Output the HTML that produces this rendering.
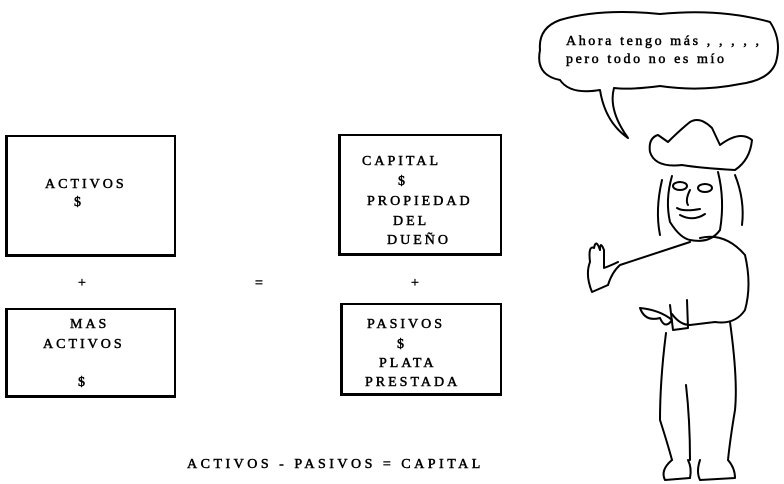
<!DOCTYPE html>
<html><head><meta charset="utf-8"><style>
body{margin:0;background:#fff;width:784px;height:484px;overflow:hidden;position:relative;font-family:"Liberation Serif",serif;color:#000}
.b{position:absolute;border:2px solid #000;border-width:2px 2px 3px 3px;box-sizing:border-box}
.t{position:absolute;font-size:14px;letter-spacing:3px;white-space:nowrap;line-height:1;-webkit-text-stroke:0.5px #000}
</style></head><body>
<div class="b" style="left:5px;top:135px;width:171px;height:122px"></div>
<div class="b" style="left:5px;top:308px;width:171px;height:90px"></div>
<div class="b" style="left:338px;top:134px;width:164px;height:122px"></div>
<div class="b" style="left:340px;top:303px;width:162px;height:93px"></div>
<div class="t" style="left:45px;top:178px">ACTIVOS</div>
<div class="t" style="left:74px;top:196px">$</div>
<div class="t" style="left:78px;top:277px">+</div>
<div class="t" style="left:255px;top:277px">=</div>
<div class="t" style="left:411px;top:277px">+</div>
<div class="t" style="left:362px;top:155px">CAPITAL</div>
<div class="t" style="left:398px;top:175px">$</div>
<div class="t" style="left:367px;top:195px">PROPIEDAD</div>
<div class="t" style="left:393px;top:215px">DEL</div>
<div class="t" style="left:387px;top:234px">DUEÑO</div>
<div class="t" style="left:70px;top:318px">MAS</div>
<div class="t" style="left:43px;top:338px">ACTIVOS</div>
<div class="t" style="left:78px;top:376px">$</div>
<div class="t" style="left:367px;top:318px">PASIVOS</div>
<div class="t" style="left:397px;top:338px">$</div>
<div class="t" style="left:379px;top:357px">PLATA</div>
<div class="t" style="left:365px;top:376px">PRESTADA</div>
<div class="t" style="left:187px;top:458px;letter-spacing:3.5px">ACTIVOS - PASIVOS = CAPITAL</div>
<svg width="784" height="484" style="position:absolute;left:0;top:0" fill="none" stroke="#000" stroke-width="2" stroke-linejoin="round" stroke-linecap="round">
<path d="M560,20 Q600,8 660,14 Q720,8 770,22 Q782,40 776,62 Q770,80 740,84 Q700,92 660,86 Q630,90 614,88 Q608,110 628,138 Q605,122 600,90 Q570,95 560,80 Q535,75 540,50 Q538,28 560,20Z"/>
<path d="M650,152 Q648,138 658,135 L668,142 Q680,130 690,122 Q700,116 712,128 L720,145 Q740,130 752,140 Q750,160 735,170 Q700,168 682,165 Q655,168 650,152Z"/>
<path d="M672,176 Q665,200 670,222 Q680,238 690,240 Q710,244 720,230 Q725,200 718,172"/>
<path d="M662,180 Q655,210 660,235 M735,175 Q745,200 742,225"/>
<ellipse cx="680" cy="186" rx="7" ry="4"/><ellipse cx="705" cy="188" rx="7" ry="4"/>
<path d="M677,208 Q683,212 700,209 M680,215 Q693,222 705,214"/>
<path d="M690,190 Q685,200 688,205"/>
<path d="M700,238 Q725,232 745,255 Q752,285 745,310 Q735,325 715,322 L690,325 Q680,325 672,314"/>
<path d="M690,242 Q650,255 620,265 Q612,272 608,285"/>
<path d="M608,285 L592,292 Q585,275 590,262 Q588,245 594,248 Q596,238 600,250 Q600,240 604,250 L604,268 Q612,265 618,262"/>
<path d="M640,308 Q660,310 672,320 Q665,330 660,318 Q645,322 640,308Z"/>
<path d="M670,305 L673,330 L688,328 L687,300"/>
<path d="M666,333 Q660,380 660,420 Q668,445 672,460 M730,322 Q738,380 735,410 Q730,440 728,460 M686,385 Q690,420 690,460"/>
<path d="M672,460 Q660,470 665,480 L690,478 Q692,468 688,460 M700,460 Q696,472 700,480 L735,478 Q735,468 728,460"/>
</svg>
<div style="position:absolute;left:566px;top:33px;font-size:14px;letter-spacing:2.6px;line-height:18px;white-space:nowrap;-webkit-text-stroke:0.5px #000">Ahora tengo más , , , , ,<br>pero todo no es mío</div>
</body></html>
